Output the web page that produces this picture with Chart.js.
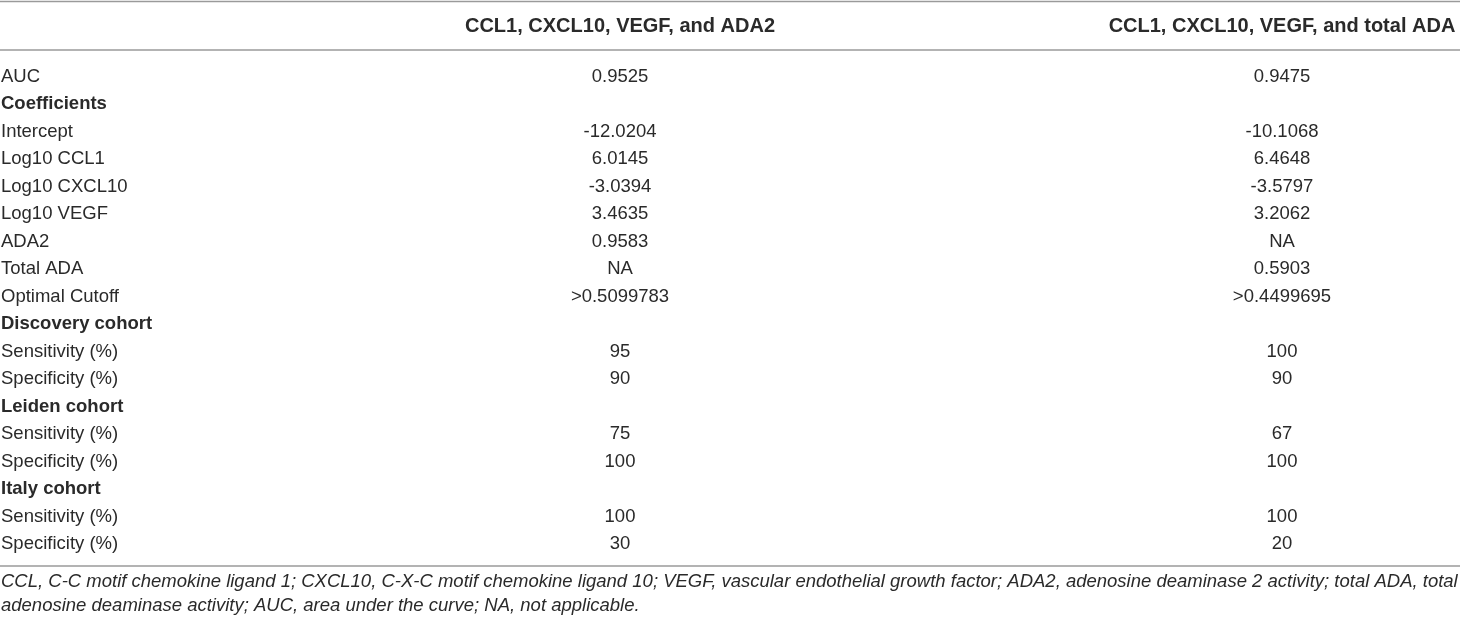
<!DOCTYPE html>
<html>
<head>
<meta charset="utf-8">
<script src="https://cdn.jsdelivr.net/npm/chart.js@4.4.1/dist/chart.umd.min.js"></script>
<style>
  html, body { margin: 0; padding: 0; background: #fff; }
  #wrap { width: 1460px; height: 623px; }
</style>
</head>
<body>
<div id="wrap"><canvas id="tableChart" width="1460" height="623"></canvas></div>
<script>
// table content
const columnHeaders = ['CCL1, CXCL10, VEGF, and ADA2', 'CCL1, CXCL10, VEGF, and total ADA'];
const rowLabels = ['AUC', 'Coefficients', 'Intercept', 'Log10 CCL1', 'Log10 CXCL10', 'Log10 VEGF',
    'ADA2', 'Total ADA', 'Optimal Cutoff', 'Discovery cohort', 'Sensitivity (%)', 'Specificity (%)',
    'Leiden cohort', 'Sensitivity (%)', 'Specificity (%)', 'Italy cohort', 'Sensitivity (%)', 'Specificity (%)'];
const groupRows = ['Coefficients', 'Discovery cohort', 'Leiden cohort', 'Italy cohort'];
const ada2Values = ['0.9525', null, '-12.0204', '6.0145', '-3.0394', '3.4635', '0.9583', 'NA', '>0.5099783',
    null, '95', '90', null, '75', '100', null, '100', '30'];
const totalAdaValues = ['0.9475', null, '-10.1068', '6.4648', '-3.5797', '3.2062', 'NA', '0.5903', '>0.4499695',
    null, '100', '90', null, '67', '100', null, '100', '20'];
const footnote = [
    'CCL, C-C motif chemokine ligand 1; CXCL10, C-X-C motif chemokine ligand 10; VEGF, vascular endothelial growth factor; ADA2, adenosine deaminase 2 activity; total ADA, total',
    'adenosine deaminase activity; AUC, area under the curve; NA, not applicable.'
];

const columnValues = [ada2Values, totalAdaValues];

document.addEventListener('DOMContentLoaded', function() {
    const ctx = document.getElementById('tableChart').getContext('2d');
    const textColor = '#2a2a2a';
    const ruleColor = '#9a9a9a';
    const fontFamily = '"Liberation Sans", Arial, Helvetica, sans-serif';

    // each filled cell becomes an invisible point; the plugin writes the text where the scales put it
    const datasets = columnValues.map(function(values, c) {
        const pts = [];
        values.forEach(function(v, r) {
            if (v !== null) pts.push({ x: c + 1, y: r, text: v });
        });
        return {
            label: columnHeaders[c],
            data: pts,
            pointRadius: 0,
            pointHoverRadius: 0,
            showLine: false
        };
    });

    const tableText = {
        id: 'tableText',
        afterDatasetsDraw: function(chart) {
            const c = chart.ctx;
            const xs = chart.scales.x;
            const ys = chart.scales.y;
            const area = chart.chartArea;
            c.save();
            c.textBaseline = 'middle';

            // rules
            c.strokeStyle = ruleColor;
            c.lineWidth = 1.5;
            [1.5, area.top - 13, area.bottom + 8].forEach(function(y) {
                c.beginPath();
                c.moveTo(0, y);
                c.lineTo(chart.width, y);
                c.stroke();
            });

            // column headers
            c.fillStyle = textColor;
            c.font = 'bold 20px ' + fontFamily;
            c.textAlign = 'center';
            columnHeaders.forEach(function(h, i) {
                c.fillText(h, xs.getPixelForValue(i + 1), 26);
            });

            // row labels
            c.textAlign = 'left';
            rowLabels.forEach(function(label, r) {
                c.font = (groupRows.indexOf(label) >= 0 ? 'bold ' : '') + '18.5px ' + fontFamily;
                c.fillText(label, area.left + 1, ys.getPixelForValue(r));
            });

            // cell values
            c.font = '18.5px ' + fontFamily;
            c.textAlign = 'center';
            chart.data.datasets.forEach(function(ds, i) {
                const meta = chart.getDatasetMeta(i);
                meta.data.forEach(function(pt, j) {
                    c.fillText(ds.data[j].text, pt.x, pt.y);
                });
            });

            // footnote
            c.font = 'italic 18.5px ' + fontFamily;
            c.textAlign = 'left';
            footnote.forEach(function(line, i) {
                c.fillText(line, 1, area.bottom + 24 + i * 24);
            });
            c.restore();
        }
    };

    new Chart(ctx, {
        type: 'scatter',
        data: { datasets: datasets },
        options: {
            responsive: false,
            animation: false,
            layout: { padding: { top: 63, bottom: 65, left: 0, right: 0 } },
            plugins: {
                legend: { display: false },
                tooltip: { enabled: false }
            },
            scales: {
                x: { type: 'linear', display: false, min: 0.0634, max: 2.2689 },
                y: { type: 'linear', display: false, reverse: true, min: -0.5, max: rowLabels.length - 0.5 }
            }
        },
        plugins: [tableText]
    });
});
</script>
</body>
</html>
